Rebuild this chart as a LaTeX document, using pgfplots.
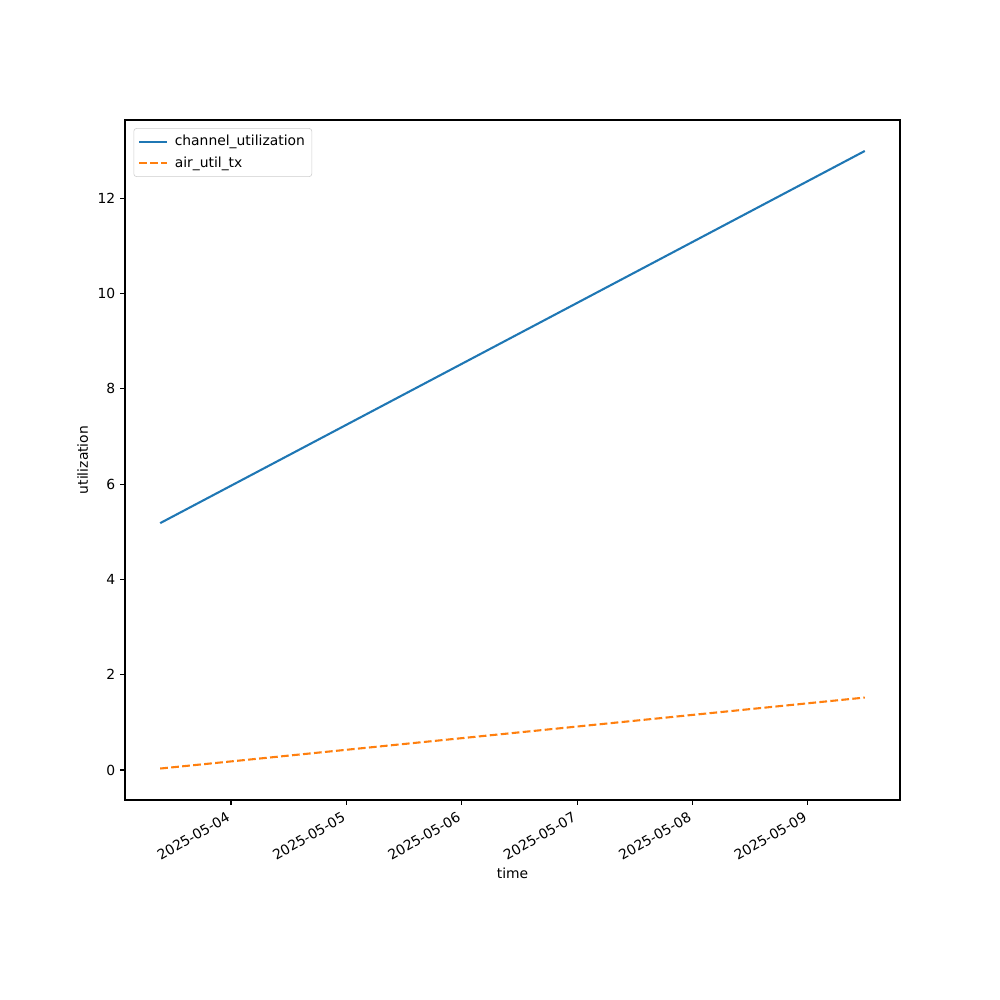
\documentclass[border=0pt]{standalone}
\usepackage{fontspec}
\setmainfont{DejaVu Sans}
\usepackage{pgfplots}
\pgfplotsset{compat=1.18}
\definecolor{mplblue}{HTML}{1F77B4}
\definecolor{mplorange}{HTML}{FF7F0E}
\begin{document}
\begin{tikzpicture}
\path (-90pt,-144pt) rectangle (630pt,576pt);
\begin{axis}[
  at={(0,0)}, anchor=south west,
  scale only axis, width=558pt, height=489.6pt,
  xmin=-0.919, xmax=5.798, ymin=-0.63, ymax=13.64,
  xtick={0,1,2,3,4,5},
  xticklabels={2025-05-04,2025-05-05,2025-05-06,2025-05-07,2025-05-08,2025-05-09},
  xticklabel style={rotate=30, anchor=north east, inner sep=1pt, xshift=-4.5pt, yshift=-1pt},
  ytick={0,2,4,6,8,10,12},
  tick align=outside, tick pos=left,
  major tick length=3.5pt,
  tick style={black, line width=0.8pt},
  axis line style={line width=0.8pt},
  /pgf/number format/assume math mode=true,
  ticklabel style={font=\fontsize{10}{12}\selectfont},
  label style={font=\fontsize{10}{12}\selectfont},
  xlabel={time}, ylabel={utilization},
  xlabel style={yshift=0pt},
  legend image code/.code={\draw[#1] (0pt,0pt) -- (20pt,0pt);},
  legend style={font=\fontsize{10}{12}\selectfont, draw=black!20, rounded corners=2pt,
    at={(0.011,0.988)}, anchor=north west, row sep=2.5pt, column sep=3pt, inner sep=3pt,
    cells={anchor=west}},
  legend cell align=left,
]
\addplot[mplblue, line width=1.5pt] coordinates {(-0.614,5.18) (5.493,12.99)};
\addlegendentry{channel\_utilization}
\addplot[mplorange, line width=1.5pt, dash pattern=on 5.55pt off 2.4pt] coordinates {(-0.614,0.03) (5.493,1.52)};
\addlegendentry{air\_util\_tx}
\end{axis}
\end{tikzpicture}
\end{document}
